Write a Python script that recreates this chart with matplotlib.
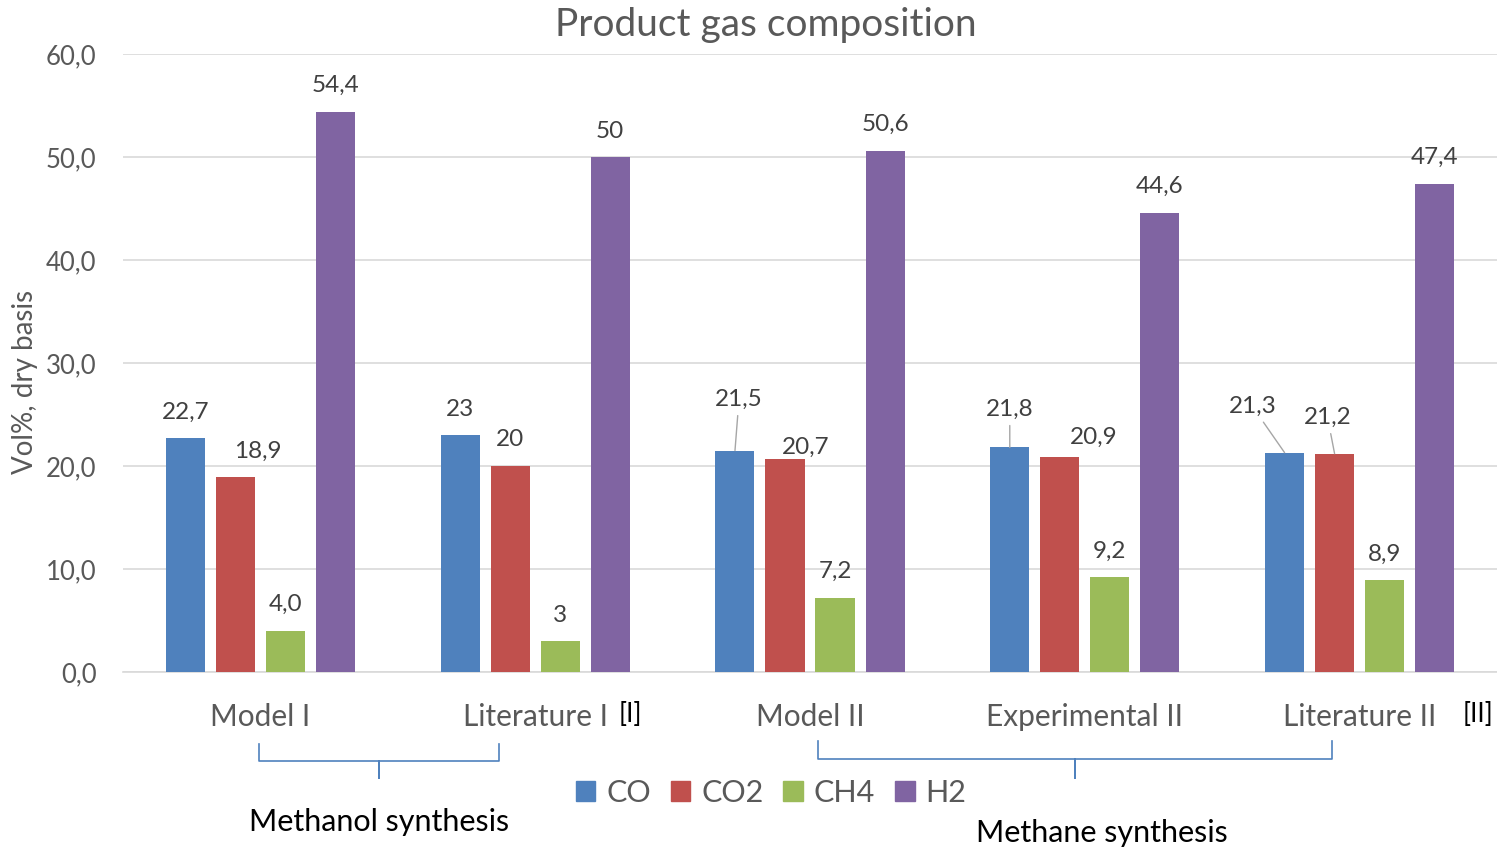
import numpy as np
import matplotlib.pyplot as plt
from matplotlib.lines import Line2D
from matplotlib.patches import Patch
from matplotlib.ticker import FuncFormatter

plt.rcParams['font.family'] = ['Lato', 'DejaVu Sans']

categories = ['Model I', 'Literature I', 'Model II', 'Experimental II', 'Literature II']
gases = ['CO', 'CO2', 'CH4', 'H2']
co = [22.7, 23, 21.5, 21.8, 21.3]
co2 = [18.9, 20, 20.7, 20.9, 21.2]
ch4 = [4.0, 3, 7.2, 9.2, 8.9]
h2 = [54.4, 50, 50.6, 44.6, 47.4]
co_lbl = ['22,7', '23', '21,5', '21,8', '21,3']
co2_lbl = ['18,9', '20', '20,7', '20,9', '21,2']
ch4_lbl = ['4,0', '3', '7,2', '9,2', '8,9']
h2_lbl = ['54,4', '50', '50,6', '44,6', '47,4']

values = [co, co2, ch4, h2]
labels = [co_lbl, co2_lbl, ch4_lbl, h2_lbl]
colors = ['#4F81BD', '#C0504D', '#9BBB59', '#8064A2']

# label offsets in pixels (dx, dy, leader line) where excel moved them
moved = {(0, 2): (4, 51, True), (1, 2): (21, 11, False),
         (0, 3): (0, 38, True), (1, 3): (34, 19, False),
         (0, 4): (-32, 46, True), (1, 4): (-7, 36, True),
         (1, 0): (22, 26, False)}

W, H = 1497, 850
fig = plt.figure(figsize=(W / 100, H / 100), dpi=100)
ax = fig.add_axes([123 / W, 1 - 672 / H, 1 - 123 / W, (672 - 54) / H])

x = np.arange(len(categories))
step, bw = 0.182, 0.142
for i, (vals, lbls, c) in enumerate(zip(values, labels, colors)):
    xs = x + (i - 1.5) * step
    ax.bar(xs, vals, width=bw, color=c, zorder=3)
    for j, (xv, v, t) in enumerate(zip(xs, vals, lbls)):
        dx, dy, lead = moved.get((i, j), (0, 26, False))
        kw = {}
        if lead:
            kw['arrowprops'] = dict(arrowstyle='-', color='#a6a6a6', lw=1,
                                    shrinkA=2, shrinkB=0)
        ax.annotate(t, (xv, v), xytext=(dx, dy), textcoords='offset pixels',
                    ha='center', va='center', fontsize=17.5, color='#404040', **kw)

ax.set_xlim(-0.5, len(categories) - 0.5)
ax.set_ylim(0, 60)
ax.set_yticks(np.arange(0, 61, 10))
ax.yaxis.set_major_formatter(FuncFormatter(lambda v, p: f'{v:.1f}'.replace('.', ',')))
ax.grid(axis='y', color='#d9d9d9', lw=1.2, zorder=0)
for s in ['top', 'right', 'left']:
    ax.spines[s].set_visible(False)
ax.spines['bottom'].set_color('#d9d9d9')
ax.spines['bottom'].set_linewidth(1.2)
ax.tick_params(length=0, labelcolor='#595959', labelsize=18.5)
ax.tick_params(axis='y', pad=19)
ax.set_xticks(x)
ax.set_xticklabels(categories, fontsize=21.5)
ax.tick_params(axis='x', pad=22)

fig.text(25 / W, 1 - 382 / H, 'Vol%, dry basis', rotation=90, ha='center', va='center',
         fontsize=20, color='#595959')
fig.text(766 / W, 1 - 25 / H, 'Product gas composition', ha='center', va='center',
         fontsize=28, color='#595959')

fig.text(630 / W, 1 - 715 / H, '[I]', ha='center', va='center', fontsize=19, color='black')
fig.text(1478 / W, 1 - 715 / H, '[II]', ha='center', va='center', fontsize=19, color='black')


def brace(x0, x1, xm, ytop, ymid, ytip):
    px = [x0, x0, xm, xm, xm, x1, x1]
    py = [ytop, ymid, ymid, ytip, ymid, ymid, ytop]
    fig.add_artist(Line2D([p / W for p in px], [1 - p / H for p in py],
                          transform=fig.transFigure, color='#4F81BD', lw=1.2))


brace(259, 499, 379, 744, 761, 778)
brace(818, 1332, 1075, 741, 759, 778)
fig.text(379 / W, 1 - 822 / H, 'Methanol synthesis', ha='center', va='center', fontsize=22)
fig.text(1102 / W, 1 - 833 / H, 'Methane synthesis', ha='center', va='center', fontsize=22)

handles = [Patch(color=c, label=g) for g, c in zip(gases, colors)]
fig.legend(handles=handles, loc='center', bbox_to_anchor=(771 / W, 1 - 793 / H), ncol=4,
           frameon=False, fontsize=22, labelcolor='#595959', handlelength=0.65,
           handleheight=0.65, handletextpad=0.35, columnspacing=0.65)

fig.savefig('out.png', dpi=100)
